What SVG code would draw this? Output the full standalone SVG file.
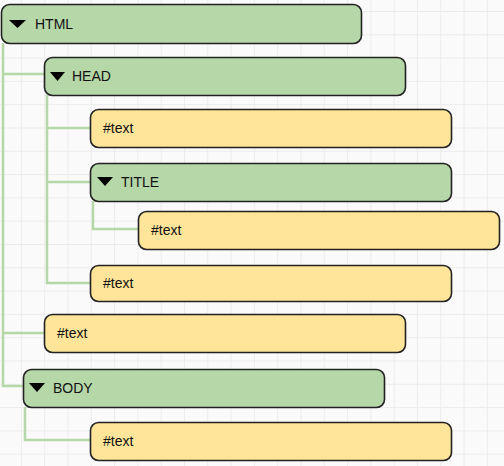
<svg xmlns="http://www.w3.org/2000/svg" width="504" height="466" viewBox="0 0 504 466">
<defs>
<pattern id="grid" x="-2.4" y="11" width="23.3" height="23.3" patternUnits="userSpaceOnUse">
<path d="M0 0.5H23.3M0.5 0V23.3" fill="none" stroke="#ececec" stroke-width="1"/>
</pattern>
</defs>
<style>
.el{fill:#b6d7a8;stroke:#222;stroke-width:1.6}
.tx{fill:#ffe599;stroke:#222;stroke-width:1.6}
.lbl{font-family:"Liberation Sans",Arial,sans-serif;font-size:14px;fill:#111}
.tri{fill:#000}
.con{fill:none;stroke:#b6d7a8;stroke-width:2.5}
</style>
<rect width="504" height="466" fill="#fafafa"/>
<rect width="504" height="466" fill="url(#grid)"/>
<g id="connectors">
<path class="con" d="M3 43V386H23M3 74H44M3 333H44"/>
<path class="con" d="M47 95V283H90M47 128H90M47 182H90"/>
<path class="con" d="M93 201V229H138"/>
<path class="con" d="M25 407V440H90"/>
</g>
<g id="html">
<rect class="el" x="1.5" y="4.5" width="360" height="39" rx="8"/>
<path class="tri" d="M9 20H26L17.5 28Z"/>
<text class="lbl" x="35" y="29">HTML</text>
</g>
<g id="head">
<rect class="el" x="44.5" y="57.5" width="361" height="38" rx="8"/>
<path class="tri" d="M50 72H65L57.5 81Z"/>
<text class="lbl" x="72" y="81">HEAD</text>
</g>
<g id="text1">
<rect class="tx" x="90.5" y="109.5" width="361" height="38" rx="8"/>
<text class="lbl" x="103" y="133">#text</text>
</g>
<g id="title">
<rect class="el" x="90.5" y="163.5" width="361" height="38" rx="8"/>
<path class="tri" d="M97 177H113L105 186Z"/>
<text class="lbl" x="121" y="187">TITLE</text>
</g>
<g id="text2">
<rect class="tx" x="138.5" y="211.5" width="361" height="38" rx="8"/>
<text class="lbl" x="151" y="235">#text</text>
</g>
<g id="text3">
<rect class="tx" x="90.5" y="265.5" width="361" height="36" rx="8"/>
<text class="lbl" x="103" y="288">#text</text>
</g>
<g id="text4">
<rect class="tx" x="44.5" y="314.5" width="361" height="38" rx="8"/>
<text class="lbl" x="57" y="338">#text</text>
</g>
<g id="body">
<rect class="el" x="23.5" y="369.5" width="361" height="38" rx="8"/>
<path class="tri" d="M29 383H45L37 392Z"/>
<text class="lbl" x="53" y="393">BODY</text>
</g>
<g id="text5">
<rect class="tx" x="90.5" y="422.5" width="361" height="38" rx="8"/>
<text class="lbl" x="103" y="446">#text</text>
</g>
</svg>
